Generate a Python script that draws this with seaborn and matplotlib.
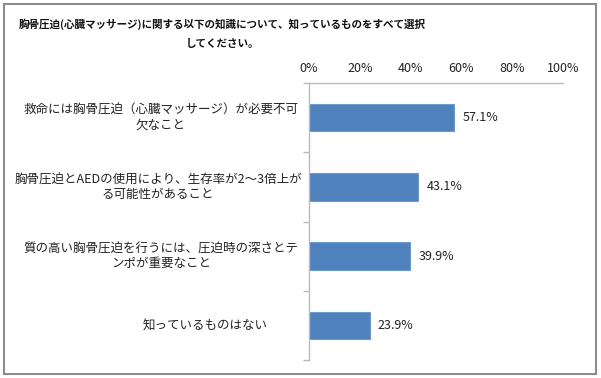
import matplotlib
matplotlib.use("Agg")
import matplotlib.pyplot as plt
import seaborn as sns
import pandas as pd
from matplotlib.patches import Rectangle

# -------------------------------
# Data
# -------------------------------
title = "胸骨圧迫(心臓マッサージ)に関する以下の知識について、知っているものをすべて選択\nしてください。"
categories = [
    "救命には胸骨圧迫（心臓マッサージ）が必要不可\n欠なこと",
    "胸骨圧迫とAEDの使用により、生存率が2～3倍上が\nる可能性があること",
    "質の高い胸骨圧迫を行うには、圧迫時の深さとテ\nンポが重要なこと",
    "知っているものはない",
]
values = [57.1, 43.1, 39.9, 23.9]
x_ticks = [0, 20, 40, 60, 80, 100]
x_tick_labels = ["0%", "20%", "40%", "60%", "80%", "100%"]

df = pd.DataFrame({"item": categories, "pct": values})

# -------------------------------
# Plot
# -------------------------------
sns.set_theme(style="white")
plt.rcParams["font.family"] = ["Noto Sans CJK JP", "DejaVu Sans"]

fig = plt.figure(figsize=(6.01, 3.78), dpi=100)
ax_left, ax_width = 309, 254
ax = fig.add_axes([ax_left / 601, 1 - 360 / 378, ax_width / 601, 277 / 378])

sns.barplot(data=df, x="pct", y="item", orient="h", color="#4F81BD",
            width=0.4, edgecolor="#6E9ACD", linewidth=0.8, saturation=1, ax=ax)

ax.set_xlim(0, 100)
ax.set_ylim(len(categories) - 0.5, -0.5)
ax.xaxis.tick_top()
ax.set_xticks(x_ticks)
ax.set_xticklabels(x_tick_labels, fontsize=9, color="#222222")
ax.tick_params(axis="x", length=0, pad=6)
ax.set_yticks(range(len(categories)))
ax.set_yticklabels([])
ax.tick_params(axis="y", which="major", length=0)
ax.set_yticks([i - 0.5 for i in range(len(categories) + 1)], minor=True)
ax.tick_params(axis="y", which="minor", length=4, color="#BBBBBB", width=1,
               direction="out", left=True)
ax.set_xlabel("")
ax.set_ylabel("")

# category labels, every line centred on the label's centre (in pixels)
label_centers_px = [161, 158, 161, 205]
line_step_px = 14.5
for i, (lab, cx) in enumerate(zip(categories, label_centers_px)):
    lines = lab.split("\n")
    n = len(lines)
    yc = ax.transData.transform((0, i))[1]
    for k, line in enumerate(lines):
        ypix = yc + ((n - 1) / 2 - k) * line_step_px
        fig.text(cx / 601, ypix / 378, line, ha="center", va="center",
                 fontsize=9, color="#222222")

for side in ["right", "bottom"]:
    ax.spines[side].set_visible(False)
for side in ["top", "left"]:
    ax.spines[side].set_color("#BBBBBB")
    ax.spines[side].set_linewidth(1)

for i, v in enumerate(values):
    ax.text(v + 3.2, i, f"{v:.1f}%", va="center", ha="left", fontsize=9,
            color="#222222")

title_lines = title.split("\n")
for k, line in enumerate(title_lines):
    fig.text(222 / 601, 1 - (24 + 20 * k) / 378, line, ha="center", va="center",
             fontsize=7.6, fontweight="bold", color="#111111")

# outer frame
fig.patches.append(Rectangle((4 / 601, 4 / 378), 592 / 601, 370 / 378,
                             transform=fig.transFigure, fill=False,
                             edgecolor="#8C8C8C", linewidth=1.5))

fig.savefig("out.png", dpi=100)
